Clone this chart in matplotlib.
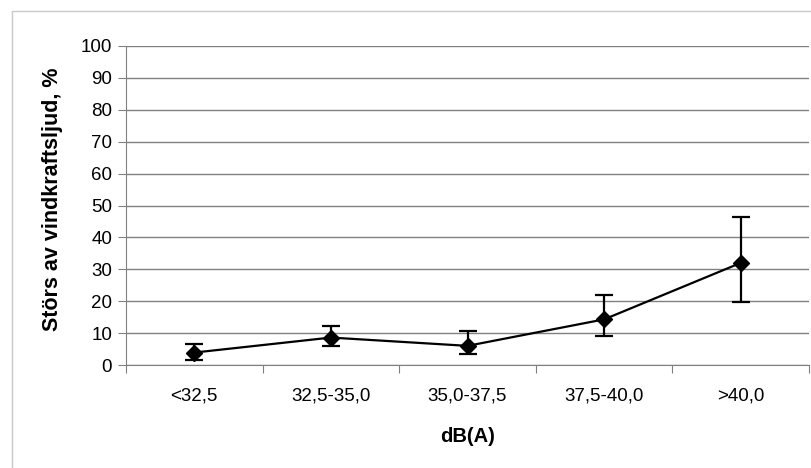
import matplotlib.pyplot as plt
import matplotlib.patches as patches
import numpy as np

plt.rcParams['font.family'] = ['Liberation Sans', 'DejaVu Sans']

categories = ['<32,5', '32,5-35,0', '35,0-37,5', '37,5-40,0', '>40,0']
values = [3.9, 8.6, 6.0, 14.3, 32.0]
err_low = [2.2, 2.6, 2.6, 5.2, 12.2]
err_high = [2.6, 3.5, 4.6, 7.5, 14.5]
yticks = list(range(0, 101, 10))

fig = plt.figure(figsize=(8.11, 4.68), dpi=100)
fig.patch.set_facecolor('white')

# outer chart frame (only left/top visible in the reference)
fig.add_artist(patches.Rectangle((12 / 811, -0.1), 1.2, 1 - 11 / 468 + 0.1,
                                 transform=fig.transFigure, fill=False,
                                 edgecolor='#c8c8c8', linewidth=1))

ax = fig.add_axes([126 / 811, 1 - 365 / 468, (809 - 126) / 811, (365 - 46) / 468])

x = np.arange(len(categories))
ax.errorbar(x, values, yerr=[err_low, err_high], color='black', linewidth=1.6,
            marker='D', markersize=8, elinewidth=1.6, capsize=6.5, capthick=1.6)

ax.set_xlim(-0.5, len(categories) - 0.5)
ax.set_ylim(0, 100)
ax.set_yticks(yticks)
ax.set_yticklabels([str(t) for t in yticks], fontsize=13.5)

ax.set_xticks(np.arange(-0.5, len(categories), 1.0))
ax.set_xticklabels([])
ax.set_xticks(x, minor=True)
ax.set_xticklabels(categories, minor=True, fontsize=13.5)
ax.tick_params(axis='x', which='minor', length=0, pad=16.5)
ax.tick_params(axis='x', which='major', length=6, color='#808080')
ax.tick_params(axis='y', length=6, color='#808080', pad=4)

ax.grid(axis='y', color='#808080', linewidth=1)
ax.set_axisbelow(True)
for side in ['top', 'right']:
    ax.spines[side].set_visible(False)
for side in ['left', 'bottom']:
    ax.spines[side].set_color('#808080')

ax.set_ylabel('Störs av vindkraftsljud, %', fontsize=15.5, fontweight='bold')
ax.yaxis.set_label_coords(-0.092, 0.52)
ax.set_xlabel('dB(A)', fontsize=14.5, fontweight='bold', labelpad=16)

fig.savefig('out.png', dpi=100)
